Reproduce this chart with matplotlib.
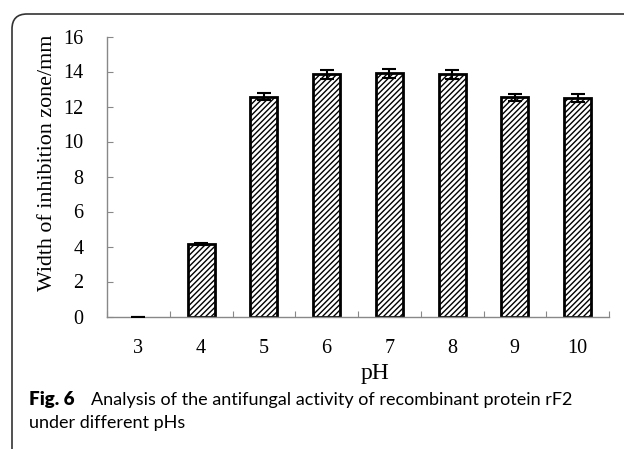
import matplotlib
matplotlib.use("Agg")
import matplotlib.pyplot as plt
from matplotlib.patches import FancyBboxPatch
import numpy as np

ph = ["3", "4", "5", "6", "7", "8", "9", "10"]
width_mm = [0.0, 4.15, 12.57, 13.85, 13.9, 13.85, 12.52, 12.5]
err = [0.0, 0.06, 0.2, 0.25, 0.27, 0.25, 0.22, 0.22]

plt.rcParams["hatch.linewidth"] = 1.0
serif = ["Liberation Serif", "DejaVu Serif"]

fig = plt.figure(figsize=(6.24, 4.49), dpi=100)
ax = fig.add_axes([107 / 624, 1 - 316.5 / 449, 502 / 624, 280 / 449])

x = np.arange(len(ph))
# a zero-height bar shows no outline, only the error-bar cap
lw = [0 if v == 0 else 2 for v in width_mm]
ax.bar(x, width_mm, width=0.43, color="white", edgecolor="black", linewidth=lw,
       hatch="//////", zorder=2)
ax.errorbar(x, width_mm, yerr=err, fmt="none", ecolor="black", elinewidth=1.5,
            capsize=5, capthick=1.5, zorder=3)

ax.set_xlim(-0.5, len(ph) - 0.5)
ax.set_ylim(0, 16)
ax.set_yticks(np.arange(0, 17, 2))
ax.set_xticks(np.arange(-0.5, len(ph), 1.0))
ax.set_xticklabels([])
ax.set_xticks(x, minor=True)
ax.set_xticklabels(ph, minor=True, family=serif, fontsize=14.5)
ax.tick_params(axis="x", which="major", direction="in", length=4, color="#888888")
ax.tick_params(axis="x", which="minor", length=0, pad=16)
ax.tick_params(axis="y", direction="in", length=4, color="#888888", pad=17)
for lab in ax.get_yticklabels():
    lab.set_family(serif)
    lab.set_fontsize(14.5)
for s in ["top", "right"]:
    ax.spines[s].set_visible(False)
for s in ["left", "bottom"]:
    ax.spines[s].set_color("#888888")
    ax.spines[s].set_linewidth(1)

fig.text(48 / 624, 1 - 163 / 449, "Width of inhibition zone/mm", rotation=90,
         ha="center", va="center", family=serif, fontsize=15.8)
fig.text(375 / 624, 1 - 374 / 449, "pH", ha="center", va="center", family=serif, fontsize=17)

# caption
fig.text(29 / 624, 1 - 400 / 449, "Fig. 6", ha="left", va="center",
         family="Lato", fontweight="heavy", fontsize=13.5)
fig.text(91 / 624, 1 - 400 / 449, "Analysis of the antifungal activity of recombinant protein rF2",
         ha="left", va="center", family="Lato", fontsize=13)
fig.text(29 / 624, 1 - 423 / 449, "under different pHs", ha="left", va="center",
         family="Lato", fontsize=13)

# rounded frame around the figure panel
frame = FancyBboxPatch((0.12, -1.0), 10, 4.49 - 0.14 + 1.0,
                       boxstyle="round,pad=0,rounding_size=0.15",
                       transform=fig.dpi_scale_trans, fill=False,
                       edgecolor="#333333", linewidth=1.2)
fig.patches.append(frame)

fig.savefig("out.png", dpi=100)
